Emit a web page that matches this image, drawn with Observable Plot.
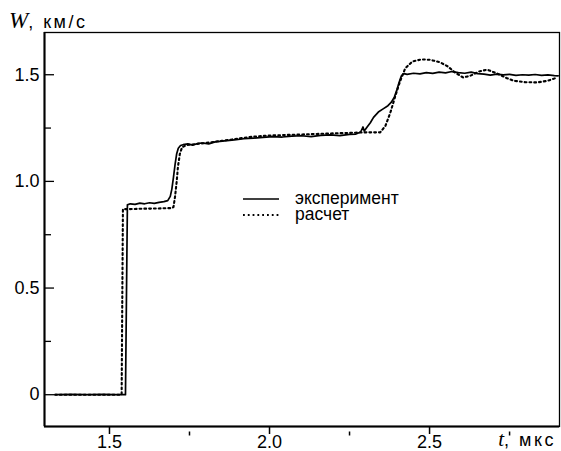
<!DOCTYPE html>
<html>
<head>
<meta charset="utf-8">
<script src="https://cdn.jsdelivr.net/npm/d3@7"></script>
<script src="https://cdn.jsdelivr.net/npm/@observablehq/plot@0.6"></script>
<style>
  html, body { margin: 0; padding: 0; background: #fff; }
  #chart { width: 561px; height: 451px; }
</style>
</head>
<body>
<div id="chart"></div>
<script>
// ---- data ----
const expT = [1.330, 1.380, 1.430, 1.480, 1.520, 1.550, 1.553, 1.556, 1.565, 1.580, 1.595, 1.610, 1.625, 1.640, 1.655, 1.670, 1.682, 1.690, 1.695, 1.700, 1.705, 1.710, 1.715, 1.722, 1.730, 1.745, 1.760, 1.775, 1.790, 1.810, 1.830, 1.860, 1.890, 1.920, 1.950, 1.980, 2.010, 2.040, 2.070, 2.100, 2.130, 2.160, 2.190, 2.220, 2.250, 2.270, 2.285, 2.292, 2.296, 2.305, 2.315, 2.325, 2.340, 2.355, 2.370, 2.380, 2.390, 2.398, 2.405, 2.412, 2.420, 2.430, 2.450, 2.470, 2.490, 2.510, 2.530, 2.550, 2.570, 2.590, 2.610, 2.630, 2.650, 2.670, 2.690, 2.710, 2.730, 2.750, 2.770, 2.790, 2.810, 2.830, 2.850, 2.870, 2.890, 2.902];
const expW = [0.000, 0.002, 0.000, 0.002, 0.000, 0.000, 0.450, 0.890, 0.895, 0.892, 0.898, 0.895, 0.900, 0.897, 0.902, 0.905, 0.910, 0.930, 0.965, 1.020, 1.080, 1.130, 1.155, 1.168, 1.172, 1.176, 1.170, 1.178, 1.180, 1.176, 1.185, 1.190, 1.195, 1.200, 1.203, 1.206, 1.210, 1.208, 1.212, 1.214, 1.210, 1.216, 1.218, 1.215, 1.220, 1.222, 1.232, 1.255, 1.236, 1.255, 1.275, 1.300, 1.325, 1.340, 1.355, 1.370, 1.395, 1.430, 1.465, 1.495, 1.505, 1.502, 1.507, 1.504, 1.510, 1.506, 1.512, 1.509, 1.515, 1.510, 1.507, 1.512, 1.505, 1.503, 1.498, 1.503, 1.499, 1.502, 1.497, 1.500, 1.498, 1.501, 1.497, 1.499, 1.496, 1.495];

const calcT = [1.330, 1.400, 1.480, 1.538, 1.540, 1.542, 1.560, 1.600, 1.650, 1.695, 1.700, 1.705, 1.710, 1.714, 1.720, 1.727, 1.740, 1.800, 1.850, 1.900, 1.950, 2.000, 2.100, 2.200, 2.300, 2.346, 2.362, 2.377, 2.393, 2.408, 2.424, 2.446, 2.475, 2.502, 2.533, 2.558, 2.580, 2.605, 2.627, 2.655, 2.680, 2.712, 2.740, 2.762, 2.800, 2.837, 2.870, 2.899];
const calcW = [0.000, 0.000, 0.000, 0.000, 0.440, 0.870, 0.870, 0.872, 0.873, 0.875, 0.880, 0.930, 1.000, 1.070, 1.130, 1.160, 1.170, 1.180, 1.190, 1.200, 1.210, 1.215, 1.220, 1.225, 1.230, 1.230, 1.260, 1.320, 1.400, 1.470, 1.530, 1.562, 1.572, 1.570, 1.558, 1.538, 1.510, 1.487, 1.495, 1.515, 1.524, 1.505, 1.485, 1.472, 1.465, 1.464, 1.472, 1.487];

const xMajor = [1.5, 2.0, 2.5];
const xMinor = [1.75, 2.25, 2.75];
const yMajor = [0, 0.5, 1.0, 1.5];
const yMinor = [0.25, 0.75, 1.25];
const xDomain = [1.297, 2.906];
const yDomain = [-0.149, 1.698];
const legendLabels = ["эксперимент", "расчет"];
const yTitle = ["W", ", км/с"];
const xTitle = ["t", ", мкс"];

// ---- layout ----
const W = 561, H = 451;
const mL = 44, mR = 2, mT = 32, mB = 25;
const iW = W - mL - mR, iH = H - mT - mB;

const exp = expT.map((t, i) => ({t, w: expW[i]}));
const calc = calcT.map((t, i) => ({t, w: calcW[i]}));

const fmt = d => d === 0 ? "0" : d.toFixed(1);
const DOT = "1.8,3";

const plot = Plot.plot({
  width: W, height: H,
  marginLeft: mL, marginRight: mR, marginTop: mT, marginBottom: mB,
  style: {fontFamily: "'Liberation Sans', Arial, sans-serif", fontSize: "18px", color: "#000", background: "#fff", overflow: "visible"},
  x: {domain: xDomain},
  y: {domain: yDomain},
  marks: [
    Plot.axisX({ticks: xMajor, tickSize: 0, tickPadding: 9, tickFormat: d => d.toFixed(1), label: null, fill: "#000"}),
    Plot.axisY({ticks: yMajor, tickSize: 0, tickPadding: 5, tickFormat: fmt, label: null, fill: "#000"}),
    Plot.tickX(xMajor, {x: d => d, insetTop: iH, insetBottom: -8, stroke: "#000", strokeWidth: 1.5}),
    Plot.tickX(xMinor, {x: d => d, insetTop: iH + 5.5, insetBottom: -9.5, stroke: "#000", strokeWidth: 1.5}),
    Plot.tickY(yMajor, {y: d => d, insetRight: iW - 10, stroke: "#000", strokeWidth: 1.3}),
    Plot.tickY(yMinor, {y: d => d, insetRight: iW - 7, stroke: "#000", strokeWidth: 1.3}),
    Plot.frame({stroke: "#000", strokeWidth: 1.3}),
    Plot.ruleX([xDomain[0]], {stroke: "#000", strokeWidth: 2}),
    Plot.ruleY([yDomain[0]], {stroke: "#000", strokeWidth: 2}),
    Plot.line(calc, {x: "t", y: "w", stroke: "#000", strokeWidth: 2.1, strokeDasharray: DOT}),
    Plot.line(exp, {x: "t", y: "w", stroke: "#000", strokeWidth: 1.7})
  ]
});

document.getElementById("chart").appendChild(plot);

const svg = d3.select(plot);
// y title
const yt = svg.append("text").attr("x", 9).attr("y", 28).attr("fill", "#000").attr("text-anchor", "start");
yt.append("tspan").attr("font-family", "'Liberation Serif', 'Times New Roman', serif").attr("font-style", "italic").attr("font-size", 23).text(yTitle[0]);
yt.append("tspan").attr("font-family", "'Liberation Sans', Arial, sans-serif").attr("font-size", 18).attr("letter-spacing", 2.5).text(yTitle[1]);
// x title
const xt = svg.append("text").attr("x", 556).attr("y", 446).attr("text-anchor", "end").attr("fill", "#000");
xt.append("tspan").attr("font-family", "'Liberation Serif', 'Times New Roman', serif").attr("font-style", "italic").attr("font-size", 21).text(xTitle[0]);
xt.append("tspan").attr("font-family", "'Liberation Sans', Arial, sans-serif").attr("font-size", 18).attr("letter-spacing", 2.5).text(xTitle[1]);

// legend
const lg = svg.append("g").attr("text-anchor", "start");
const rows = [{y: 199, dash: null, sw: 1.7}, {y: 215, dash: DOT, sw: 2.1}];
rows.forEach((r, i) => {
  lg.append("line").attr("x1", 243).attr("x2", 279).attr("y1", r.y).attr("y2", r.y)
    .attr("stroke", "#000").attr("stroke-width", r.sw).attr("stroke-dasharray", r.dash);
  lg.append("text").attr("x", 295).attr("y", r.y + 5).attr("fill", "#000").attr("text-anchor", "start")
    .attr("font-family", "'Liberation Sans', Arial, sans-serif").attr("font-size", 17.5)
    .text(legendLabels[i]);
});
</script>
</body>
</html>
